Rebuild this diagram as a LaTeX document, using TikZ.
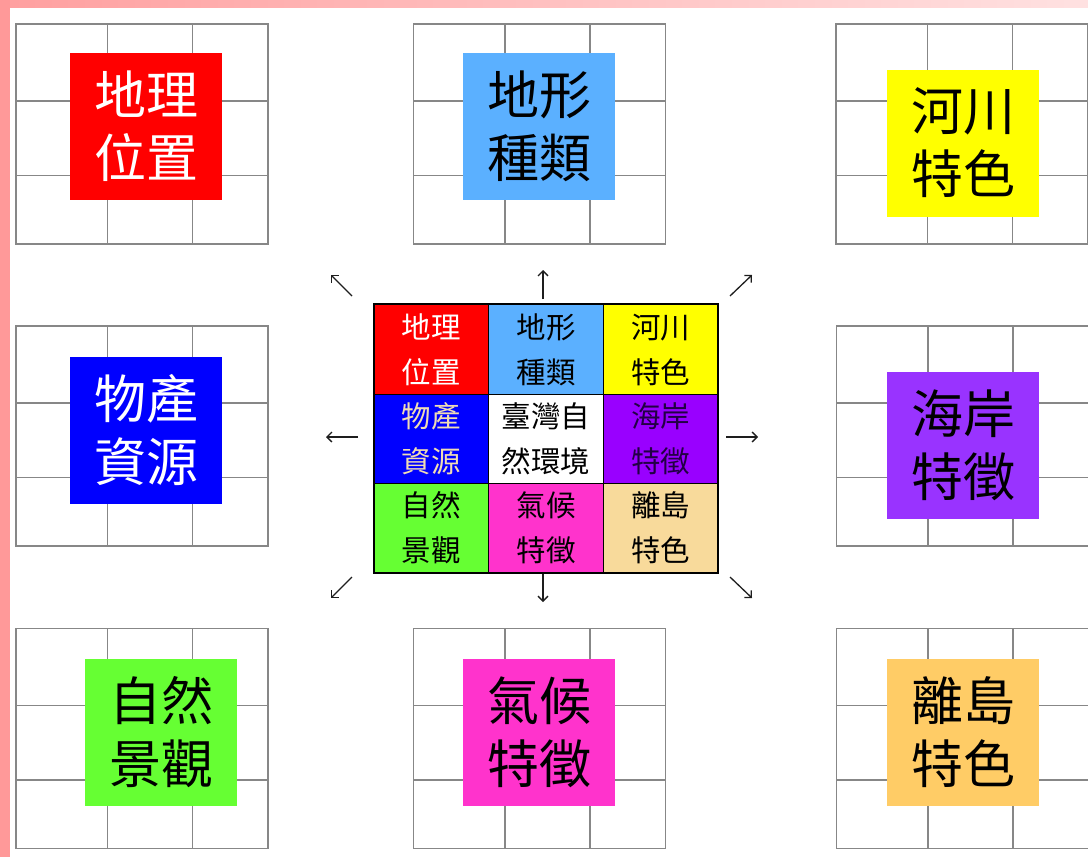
\documentclass[tikz,border=0pt]{standalone}
\usepackage{fontspec}
\newfontfamily\cjk{Noto Sans CJK TC}
\usetikzlibrary{arrows.meta}
\definecolor{stripL}{RGB}{255,153,153}
\definecolor{stripA}{RGB}{255,160,160}
\definecolor{stripB}{RGB}{255,225,225}
\definecolor{gridc}{RGB}{135,135,135}
\definecolor{cRed}{RGB}{255,0,0}
\definecolor{cSky}{RGB}{91,176,255}
\definecolor{cYel}{RGB}{255,255,0}
\definecolor{cBlue}{RGB}{0,0,255}
\definecolor{cPurC}{RGB}{153,0,255}
\definecolor{cPurO}{RGB}{153,51,255}
\definecolor{cGreen}{RGB}{102,255,51}
\definecolor{cMag}{RGB}{255,51,204}
\definecolor{cWheat}{RGB}{248,218,155}
\definecolor{cOrange}{RGB}{255,204,102}
\definecolor{tWheat}{RGB}{240,220,180}
\definecolor{tPur}{RGB}{34,0,68}
\definecolor{arrc}{RGB}{30,30,30}
\newcommand\tablegrid[2]{%
  \draw[gridline] (#1,#2) rectangle ++(252,220);
  \draw[gridline] (#1+91.5,#2) -- ++(0,220);
  \draw[gridline] (#1+176.5,#2) -- ++(0,220);
  \draw[gridline] (#1,#2+77) -- ++(252,0);
  \draw[gridline] (#1,#2+151.5) -- ++(252,0);
}
\tikzset{
  gridline/.style={draw=gridc, line width=1.8pt},
  bigbox/.style={minimum width=152pt, minimum height=147pt, inner sep=0pt, align=center,
    font={\cjk\fontsize{52}{63}\selectfont}},
  cell/.style={draw=black, line width=0.8pt, minimum width=114.7pt, minimum height=89.3pt,
    inner sep=0pt, align=center, font={\cjk\fontsize{29.5}{45}\selectfont}},
  arr/.style={draw=arrc, line width=1.3pt, -{Straight Barb[length=5pt,width=10pt]}},
}
\begin{document}
\begin{tikzpicture}[x=1pt,y=-1pt]
\useasboundingbox (0,0) rectangle (1088,857);
\fill[white] (0,0) rectangle (1088,857);
\fill[stripL] (0,0) rectangle (10,857);
\shade[left color=stripA, right color=stripB] (10,0) rectangle (1088,7);
\begin{scope}
\clip (0,0) rectangle (1088,857);
\tablegrid{16}{24}
\tablegrid{413.5}{24}
\tablegrid{836}{24}
\tablegrid{16}{326}
\tablegrid{836.5}{326}
\tablegrid{16}{628.5}
\tablegrid{413.5}{628.5}
\tablegrid{836.5}{628.5}
\end{scope}
% outer boxes
\node[bigbox, fill=cRed, text=white] (geo) at (146,126.5) {地理\\位置};
\node[bigbox, fill=cSky, text=black] (land) at (539,126.5) {地形\\種類};
\node[bigbox, fill=cYel, text=black] (river) at (963,143) {河川\\特色};
\node[bigbox, fill=cBlue, text=white] (prod) at (146,430) {物產\\資源};
\node[bigbox, fill=cPurO, text=black] (coast) at (963,445) {海岸\\特徵};
\node[bigbox, fill=cGreen, text=black] (scene) at (161,732) {自然\\景觀};
\node[bigbox, fill=cMag, text=black] (clim) at (539,732) {氣候\\特徵};
\node[bigbox, fill=cOrange, text=black] (isl) at (963,732) {離島\\特色};
% center grid
\node[cell, fill=cRed, text=white] (c11) at (431.3,349.5) {地理\\位置};
\node[cell, fill=cSky, text=black] (c12) at (546,349.5) {地形\\種類};
\node[cell, fill=cYel, text=black] (c13) at (660.7,349.5) {河川\\特色};
\node[cell, fill=cBlue, text=tWheat] (c21) at (431.3,438.8) {物產\\資源};
\node[cell, fill=white, text=black] (c22) at (546,438.8) {臺灣自\\然環境};
\node[cell, fill=cPurC, text=tPur] (c23) at (660.7,438.8) {海岸\\特徵};
\node[cell, fill=cGreen, text=black] (c31) at (431.3,528.1) {自然\\景觀};
\node[cell, fill=cMag, text=black] (c32) at (546,528.1) {氣候\\特徵};
\node[cell, fill=cWheat, text=black] (c33) at (660.7,528.1) {離島\\特色};
\draw[line width=2pt] (c11.north west) rectangle (c33.south east);
% arrows
\coordinate (nS) at (543,299); \coordinate (nE) at (543,270);
\coordinate (sS) at (543,574); \coordinate (sE) at (543,602);
\coordinate (wS) at (358,437); \coordinate (wE) at (326,437);
\coordinate (eS) at (726,437); \coordinate (eE) at (758,437);
\coordinate (nwS) at (352,296); \coordinate (nwE) at (331,275);
\coordinate (neS) at (730,296); \coordinate (neE) at (752,275);
\coordinate (swS) at (352,577); \coordinate (swE) at (331,598);
\coordinate (seS) at (730,577); \coordinate (seE) at (752,598);
\draw[arr] (nS) -- (nE);
\draw[arr] (sS) -- (sE);
\draw[arr] (wS) -- (wE);
\draw[arr] (eS) -- (eE);
\draw[arr] (nwS) -- (nwE);
\draw[arr] (neS) -- (neE);
\draw[arr] (swS) -- (swE);
\draw[arr] (seS) -- (seE);
\end{tikzpicture}
\end{document}
